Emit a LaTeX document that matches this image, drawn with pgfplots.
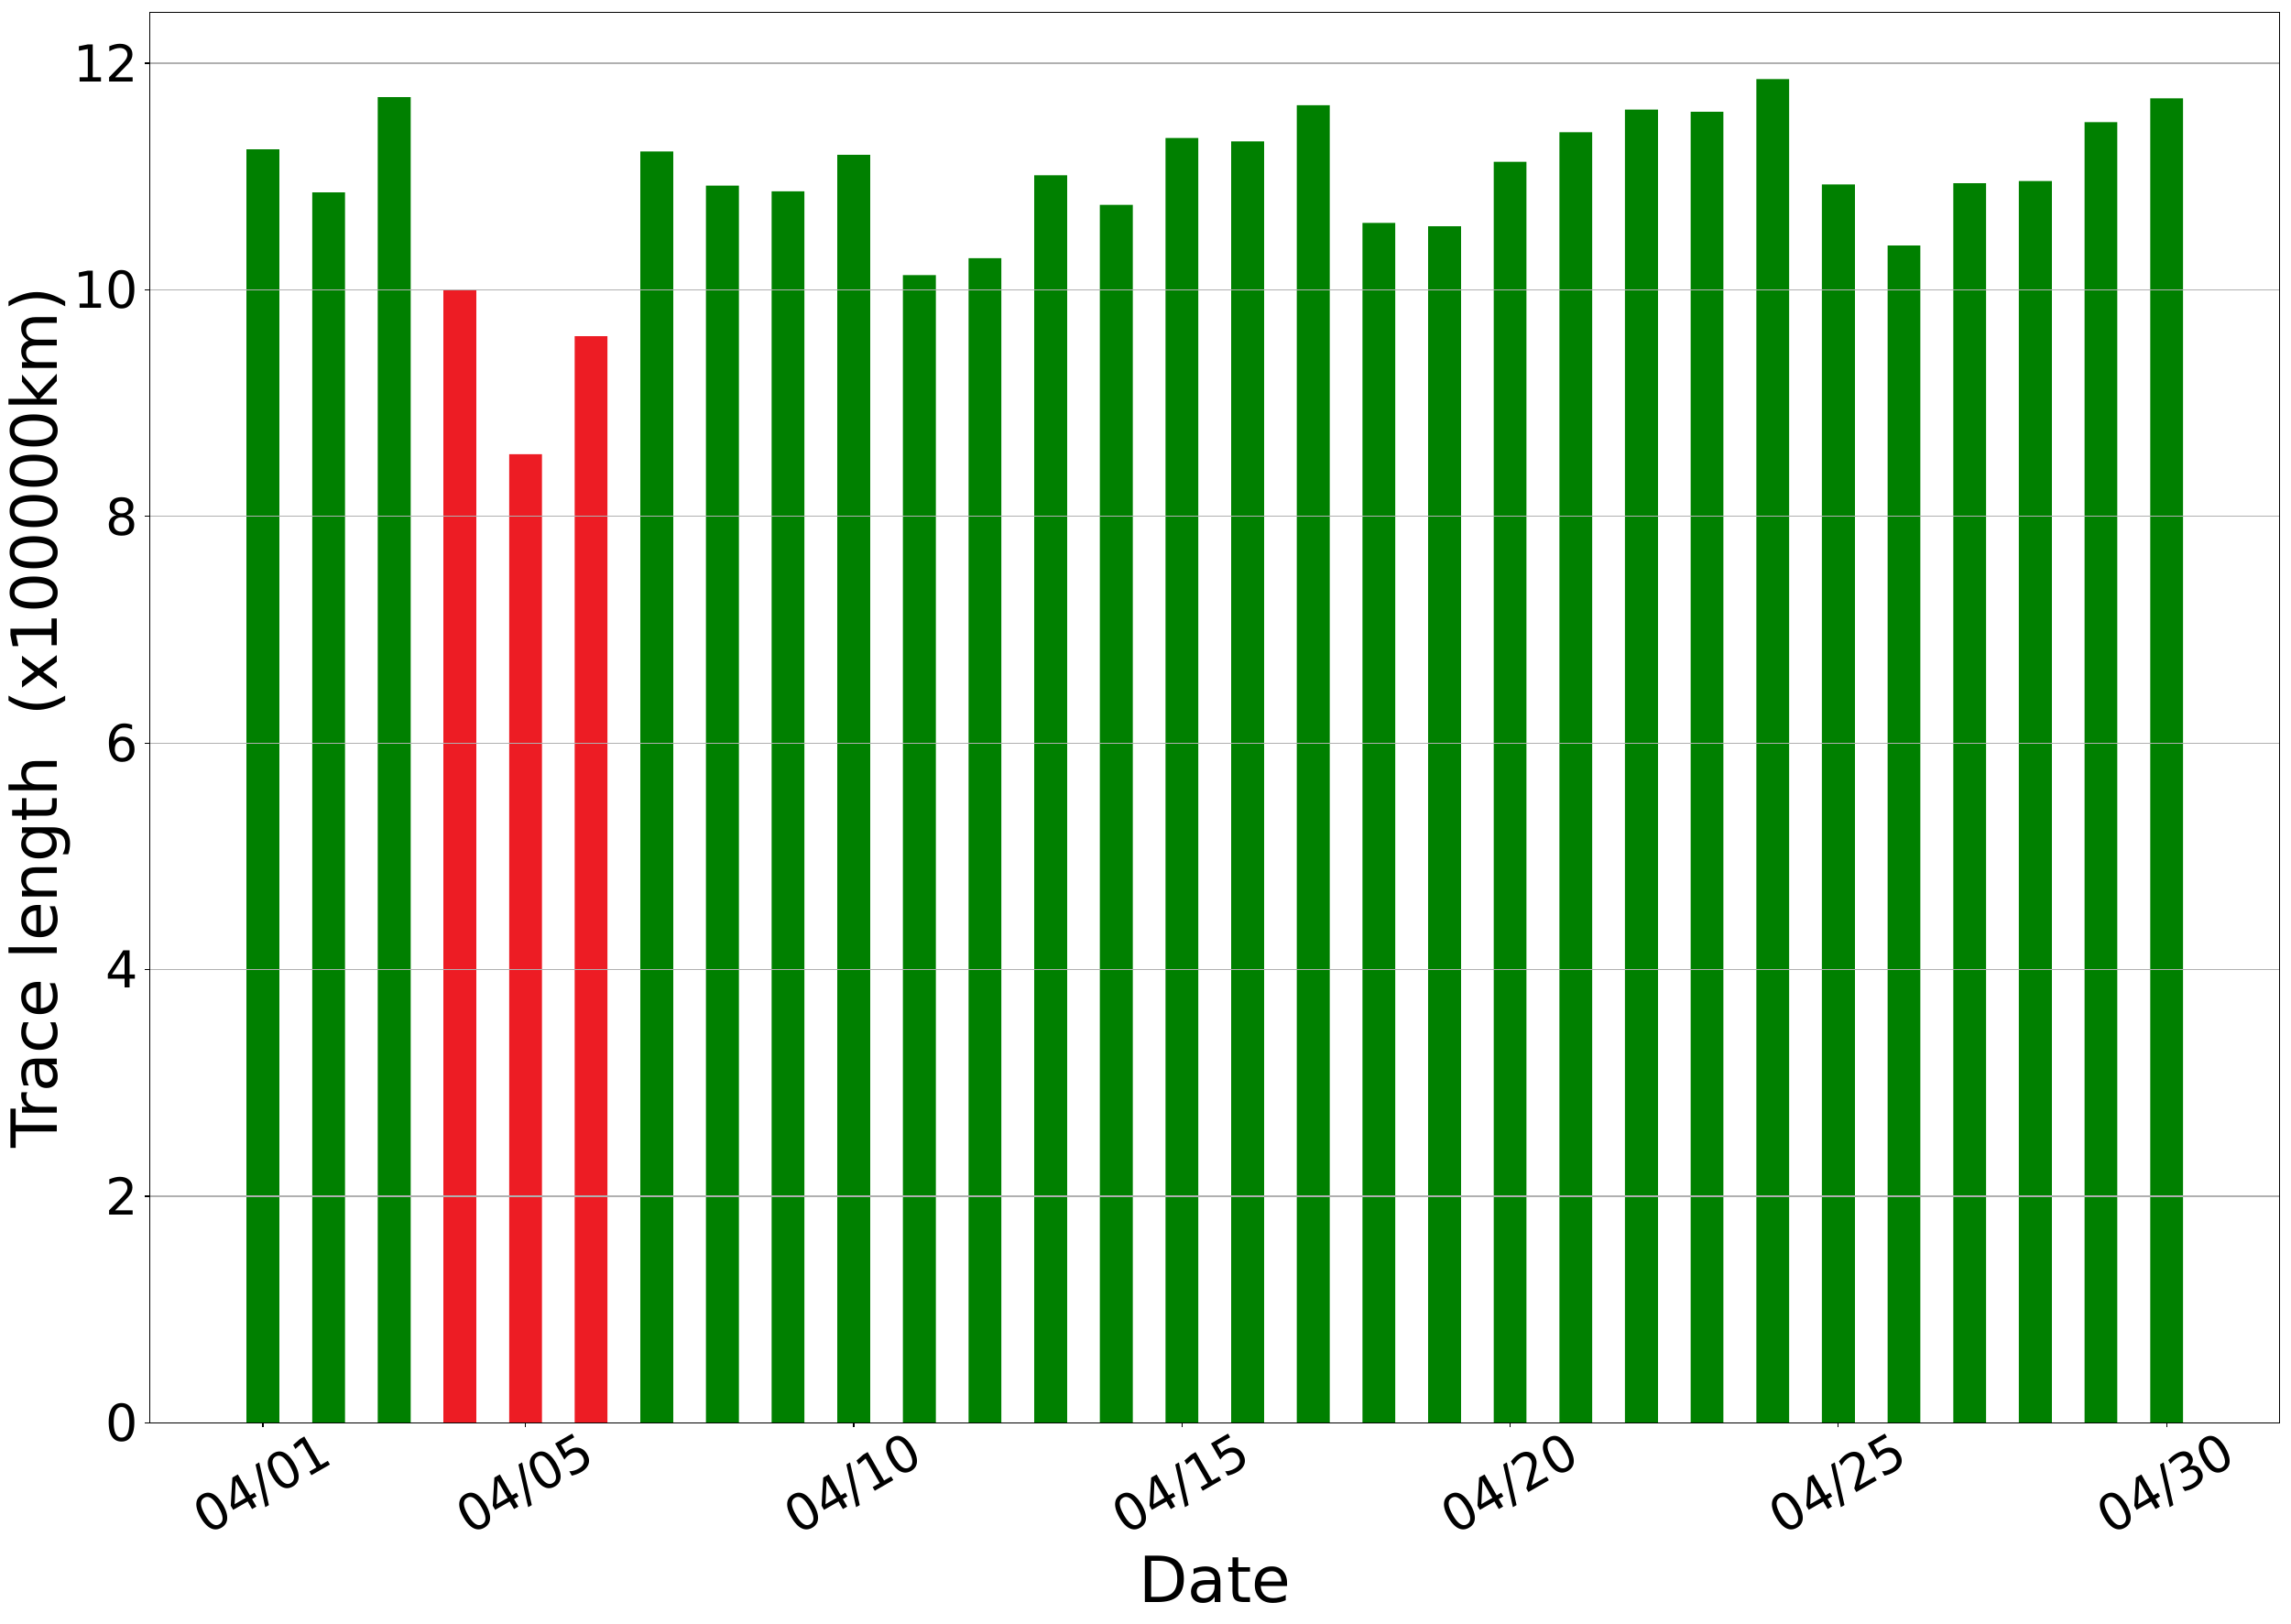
\documentclass[border=0pt]{standalone}
\usepackage{pgfplots}
\pgfplotsset{compat=1.18}
\usepackage{fontspec}
\setmainfont{DejaVu Sans}
\definecolor{barred}{RGB}{237,28,36}
\definecolor{bargreen}{RGB}{0,128,0}
\definecolor{gridgray}{RGB}{176,176,176}
\begin{document}
\begin{tikzpicture}
\begin{axis}[
  at={(0,0)}, anchor=south west,
  scale only axis, width=1674.2pt, height=1108.8pt,
  xmin=-0.726, xmax=31.726, ymin=0, ymax=12.45,
  axis on top,
  axis line style={line width=0.8pt, black},
  tick pos=left, tick align=outside,
  major tick length=3.5pt, every tick/.style={black, line width=0.8pt},
  xtick={1,5,10,15,20,25,30},
  xticklabels={04/01,04/05,04/10,04/15,04/20,04/25,04/30},
  ytick={0,2,4,6,8,10,12},
  ymajorgrids, major grid style={gridgray, line width=0.8pt},
  /pgf/number format/assume math mode=true,
  ticklabel style={font=\fontsize{40}{48}\selectfont},
  yticklabel style={anchor=east, inner sep=0pt, xshift=-5pt},
  xticklabel style={yshift=-45pt, rotate=30, anchor=center, inner sep=0pt},
  xlabel={Date}, ylabel={Trace length\ \ (x100000km)},
  label style={font=\fontsize{50}{60}\selectfont},
  xlabel style={at={(axis description cs:0.5,-0.1273)}, anchor=base},
  ylabel style={at={(axis description cs:-0.0516,0.5)}, anchor=center},
]
\addplot[ybar, bar width=0.5, bar shift=0pt, fill=bargreen, draw=none] coordinates {
(1,11.24) (2,10.86) (3,11.70)
(7,11.22) (8,10.92) (9,10.87) (10,11.19) (11,10.13) (12,10.28)
(13,11.01) (14,10.75) (15,11.34) (16,11.31) (17,11.63) (18,10.59)
(19,10.56) (20,11.13) (21,11.39) (22,11.59) (23,11.57) (24,11.86)
(25,10.93) (26,10.39) (27,10.94) (28,10.96) (29,11.48) (30,11.69)
};
\addplot[ybar, bar width=0.5, bar shift=0pt, fill=barred, draw=none] coordinates {
(4,9.995) (5,8.55) (6,9.59)
};
\end{axis}
\pgfresetboundingbox
\path[use as bounding box] (-117.6pt,-157.5pt) rectangle (1683.0pt,1118.4pt);
\end{tikzpicture}
\end{document}
